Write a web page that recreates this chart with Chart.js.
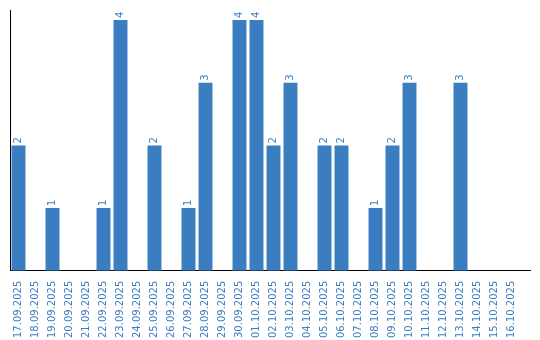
<!DOCTYPE html>
<html>
<head>
<meta charset="utf-8">
<script src="https://cdn.jsdelivr.net/npm/chart.js@4.4.0/dist/chart.umd.min.js"></script>
<style>
  html, body { margin: 0; padding: 0; background: #fff; }
  #wrap { width: 540px; height: 340px; }
</style>
</head>
<body>
<div id="wrap"><canvas id="chart"></canvas></div>
<script>
const fechas = [
    "17.09.2025", "18.09.2025", "19.09.2025", "20.09.2025", "21.09.2025",
    "22.09.2025", "23.09.2025", "24.09.2025", "25.09.2025", "26.09.2025",
    "27.09.2025", "28.09.2025", "29.09.2025", "30.09.2025", "01.10.2025",
    "02.10.2025", "03.10.2025", "04.10.2025", "05.10.2025", "06.10.2025",
    "07.10.2025", "08.10.2025", "09.10.2025", "10.10.2025", "11.10.2025",
    "12.10.2025", "13.10.2025", "14.10.2025", "15.10.2025", "16.10.2025"
];
const valores = [2, 0, 1, 0, 0, 1, 4, 0, 2, 0, 1, 3, 0, 4, 4, 2, 3, 0, 2, 2, 0, 1, 2, 3, 0, 0, 3, 0, 0, 0];

const azul = '#3b7dc1';

/* etiquetas de valor giradas encima de cada barra */
const etiquetas = {
    id: 'etiquetas',
    afterDatasetsDraw(chart) {
        const ctx = chart.ctx;
        const meta = chart.getDatasetMeta(0);
        ctx.save();
        ctx.fillStyle = azul;
        ctx.font = '10px "DejaVu Sans"';
        ctx.textAlign = 'left';
        ctx.textBaseline = 'middle';
        meta.data.forEach((bar, i) => {
            const v = valores[i];
            if (!v) return;
            ctx.save();
            ctx.translate(bar.x, bar.y - 2);
            ctx.rotate(-Math.PI / 2);
            ctx.fillText(String(v), 0, 0);
            ctx.restore();
        });
        ctx.restore();
    }
};

/* el eje x se alarga un poco mas alla del area de barras */
const ejeLargo = {
    id: 'ejeLargo',
    afterDraw(chart) {
        const ctx = chart.ctx;
        const ejeX = chart.scales.x;
        const y = Math.round(ejeX.top - 0.5) + 0.5;
        ctx.save();
        ctx.strokeStyle = '#000';
        ctx.lineWidth = 1;
        ctx.beginPath();
        ctx.moveTo(ejeX.right - 1, y);
        ctx.lineTo(ejeX.right + 11, y);
        ctx.stroke();
        ctx.restore();
    }
};

const data = {
    labels: fechas,
    datasets: [{
        data: valores,
        backgroundColor: azul,
        borderWidth: 0,
        barPercentage: 0.82,
        categoryPercentage: 1
    }]
};

const config = {
    type: 'bar',
    data: data,
    options: {
        responsive: true,
        maintainAspectRatio: false,
        animation: false,
        layout: { padding: { left: 2, right: 20, top: 10, bottom: 0 } },
        plugins: {
            legend: { display: false },
            tooltip: { enabled: false }
        },
        scales: {
            x: {
                grid: { display: false },
                border: { display: true, color: '#000', width: 1 },
                ticks: {
                    color: azul,
                    font: { family: 'DejaVu Sans', size: 10 },
                    maxRotation: 90,
                    minRotation: 90,
                    autoSkip: false,
                    padding: 2
                }
            },
            y: {
                min: 0,
                max: Math.max(...valores) * 1.04,
                grid: { display: false },
                border: { display: true, color: '#000', width: 1 },
                ticks: { display: false }
            }
        }
    },
    plugins: [etiquetas, ejeLargo]
};

const canvas = document.getElementById("chart").getContext("2d");
let chart = new Chart(canvas, config);
</script>
</body>
</html>
